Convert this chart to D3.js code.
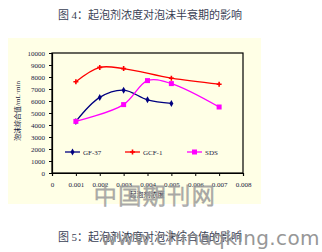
<!DOCTYPE html>
<html>
<head>
<meta charset="utf-8">
<script src="https://cdn.jsdelivr.net/npm/d3@7"></script>
<style>
body { margin: 0; background: #fff; }
svg text { font-family: "Liberation Serif", "Noto Sans CJK SC", serif; }
</style>
</head>
<body>
<div id="chart"></div>
<script>
var svgWidth = 322;
var svgHeight = 252;

var margin = { top: 53, left: 52, right: 79, bottom: 79 };
var width = svgWidth - margin.left - margin.right;
var height = svgHeight - margin.top - margin.bottom;

// data
var xTicks = [0, 0.001, 0.002, 0.003, 0.004, 0.005, 0.006, 0.007, 0.008];
var yTicks = [0, 1000, 2000, 3000, 4000, 5000, 6000, 7000, 8000, 9000, 10000];

var gfX = [0.001, 0.002, 0.003, 0.004, 0.005];
var gfY = [4300, 6300, 6900, 6100, 5800];
var gcfX = [0.001, 0.002, 0.003, 0.005, 0.007];
var gcfY = [7600, 8800, 8700, 7900, 7400];
var sdsX = [0.001, 0.003, 0.004, 0.005, 0.007];
var sdsY = [4300, 5700, 7700, 7450, 5500];

var seriesNames = ["GF-37", "GCF-1", "SDS"];
var seriesColors = ["#000080", "#ff0000", "#ff00ff"];
var seriesMarks = ["diamond", "plus", "square"];

var svg = d3.select("#chart").append("svg")
  .attr("width", svgWidth)
  .attr("height", svgHeight);

// titles
svg.append("text")
  .attr("x", 150).attr("y", 19)
  .attr("text-anchor", "middle")
  .style("font-size", "11px")
  .style("fill", "#3a3f55")
  .text("图 4：起泡剂浓度对泡沫半衰期的影响");

// yellow panel
svg.append("rect")
  .attr("x", 8).attr("y", 38)
  .attr("width", 253).attr("height", 166)
  .attr("fill", "#ffffe6");

var chartGroup = svg.append("g")
  .attr("transform", `translate(${margin.left}, ${margin.top})`);

var x = d3.scaleLinear().domain([0, 0.008]).range([0, width]);
var y = d3.scaleLinear().domain([0, 10000]).range([height, 0]);

chartGroup.append("rect")
  .attr("width", width).attr("height", height)
  .attr("fill", "none")
  .attr("stroke", "#000")
  .attr("stroke-width", 1.2);

var xAxis = chartGroup.append("g")
  .attr("transform", `translate(0, ${height})`)
  .call(d3.axisBottom(x).tickValues(xTicks).tickSize(3).tickFormat(d => d === 0 ? "0" : d3.format(".3f")(d)));
var yAxis = chartGroup.append("g")
  .call(d3.axisLeft(y).tickValues(yTicks).tickSize(3).tickFormat(d3.format("d")));

[xAxis, yAxis].forEach(function(ax) {
  ax.select(".domain").attr("stroke", "#000").attr("stroke-width", 1.2);
  ax.selectAll(".tick line").attr("stroke", "#000");
  ax.selectAll(".tick text")
    .style("font-family", "Liberation Serif, serif")
    .style("font-size", "7px")
    .style("fill", "#1a1a40");
});
xAxis.selectAll(".tick text").attr("dy", "1.1em");
yAxis.selectAll(".tick text").attr("x", -7);

// axis titles
svg.append("text")
  .attr("transform", "translate(20, 111) rotate(-90)")
  .attr("text-anchor", "middle")
  .style("font-size", "7px")
  .style("fill", "#1a1a40")
  .text("泡沫综合值/mL·min");

svg.append("text")
  .attr("x", 147).attr("y", 197)
  .attr("text-anchor", "middle")
  .style("font-size", "7px")
  .style("fill", "#1a1a40")
  .text("起泡剂浓度");

function drawMark(g, kind, cx, cy, color) {
  if (kind == "square") {
    g.append("rect").attr("x", cx - 2.5).attr("y", cy - 2.5)
      .attr("width", 5).attr("height", 5).attr("fill", color);
  } else if (kind == "diamond") {
    g.append("path").attr("d", d3.symbol(d3.symbolDiamond, 14)())
      .attr("transform", `translate(${cx},${cy})`).attr("fill", color);
  } else {
    g.append("path").attr("d", `M${cx - 2.5},${cy}H${cx + 2.5}M${cx},${cy - 2.5}V${cy + 2.5}`)
      .attr("stroke", color).attr("stroke-width", 1.6);
  }
}

var allX = [gfX, gcfX, sdsX];
var allY = [gfY, gcfY, sdsY];

var line = d3.line()
  .x(d => x(d[0]))
  .y(d => y(d[1]))
  .curve(d3.curveCatmullRom.alpha(0.5));

seriesNames.forEach(function(name, i) {
  var pts = allX[i].map((v, j) => [v, allY[i][j]]);
  chartGroup.append("path")
    .datum(pts)
    .attr("d", line)
    .attr("fill", "none")
    .attr("stroke", seriesColors[i])
    .attr("stroke-width", 1.3);
  pts.forEach(function(p) {
    drawMark(chartGroup, seriesMarks[i], x(p[0]), y(p[1]), seriesColors[i]);
  });
});

// legend
var legendX = [13, 73, 135];
seriesNames.forEach(function(name, i) {
  var lx = legendX[i], ly = 99;
  chartGroup.append("line")
    .attr("x1", lx).attr("x2", lx + 15)
    .attr("y1", ly).attr("y2", ly)
    .attr("stroke", seriesColors[i]).attr("stroke-width", 1.3);
  drawMark(chartGroup, seriesMarks[i], lx + 7.5, ly, seriesColors[i]);
  chartGroup.append("text")
    .attr("x", lx + 18).attr("y", ly + 2.5)
    .style("font-size", "7px")
    .style("fill", "#1a1a40")
    .text(name);
});

// watermark and next caption
svg.append("text")
  .attr("x", 150).attr("y", 241)
  .attr("text-anchor", "middle")
  .style("font-size", "11px")
  .style("fill", "#3a3f55")
  .text("图 5：起泡剂浓度对泡沫综合值的影响");

svg.append("text")
  .attr("x", 155).attr("y", 204)
  .attr("text-anchor", "middle")
  .style("font-family", "Noto Sans CJK SC, sans-serif")
  .style("font-size", "23px")
  .style("letter-spacing", "1.5px")
  .style("font-weight", "300")
  .style("fill", "none")
  .style("stroke", "#9a9a9a")
  .style("stroke-width", 1)
  .attr("opacity", 0.85)
  .text("中国期刊网");

svg.append("text")
  .attr("x", 320).attr("y", 245)
  .attr("text-anchor", "end")
  .style("font-family", "DejaVu Sans, sans-serif")
  .style("font-size", "20px")
  .style("letter-spacing", "0.4px")
  .style("fill", "#8c8c8c")
  .attr("opacity", 0.9)
  .text("www.chinaqking.com");
</script>
</body>
</html>
